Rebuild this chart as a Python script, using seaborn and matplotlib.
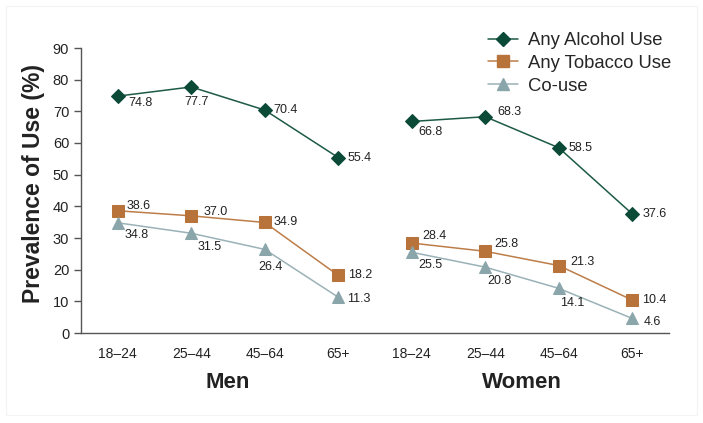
import matplotlib.pyplot as plt
import matplotlib.patches as patches
from matplotlib.lines import Line2D
import pandas as pd
import seaborn as sns

# data
groups = ['Men', 'Women']
age_bands = ['18\u201324', '25\u201344', '45\u201364', '65+']
measures = ['Any Alcohol Use', 'Any Tobacco Use', 'Co-use']

alcohol_men = [74.8, 77.7, 70.4, 55.4]
alcohol_women = [66.8, 68.3, 58.5, 37.6]
tobacco_men = [38.6, 37.0, 34.9, 18.2]
tobacco_women = [28.4, 25.8, 21.3, 10.4]
couse_men = [34.8, 31.5, 26.4, 11.3]
couse_women = [25.5, 20.8, 14.1, 4.6]

# styling
colors = {'Any Alcohol Use': '#0b4a37', 'Any Tobacco Use': '#b8733b', 'Co-use': '#8ba6ab'}
line_colors = {'Any Alcohol Use': '#1d5a47', 'Any Tobacco Use': '#bd7d48', 'Co-use': '#9ab2b7'}
markers = {'Any Alcohol Use': 'D', 'Any Tobacco Use': 's', 'Co-use': '^'}
msizes = {'Any Alcohol Use': 7.5, 'Any Tobacco Use': 8, 'Co-use': 8.5}

# label offsets in pixels (dx, dy) per measure, per point in order
offsets = {
    'Any Alcohol Use': [(11, -7), (-7, -15), (9, 0), (9, 0),
                        (7, -11), (12, 5), (10, 0), (10, 0)],
    'Any Tobacco Use': [(9, 5), (12, 4), (9, 0), (10, 0),
                        (11, 7), (9, 7), (12, 4), (10, 0)],
    'Co-use': [(7, -12), (6, -14), (-6, -18), (9, -2),
               (7, -13), (2, -14), (1, -15), (11, -4)],
}

values = {
    'Any Alcohol Use': alcohol_men + alcohol_women,
    'Any Tobacco Use': tobacco_men + tobacco_women,
    'Co-use': couse_men + couse_women,
}

rows = []
for m in measures:
    for i, v in enumerate(values[m]):
        rows.append({'measure': m, 'group': groups[i // 4], 'pos': i, 'value': v})
df = pd.DataFrame(rows)

sns.set_style('white')
plt.rcParams['font.family'] = ['Liberation Sans', 'DejaVu Sans']

fig = plt.figure(figsize=(7.03, 4.23), dpi=100)
ax = fig.add_axes([81 / 703, 90 / 423, 588 / 703, 285 / 423])

for m in measures:
    for g in groups:
        sub = df[(df['measure'] == m) & (df['group'] == g)]
        sns.lineplot(data=sub, x='pos', y='value', ax=ax, color=line_colors[m], lw=1.1,
                     marker=markers[m], markersize=msizes[m], markerfacecolor=colors[m],
                     markeredgecolor=colors[m], legend=False, zorder=3)
    for i, v in enumerate(values[m]):
        dx, dy = offsets[m][i]
        ax.annotate(f'{v:.1f}', (i, v), xytext=(dx, dy), textcoords='offset pixels',
                    ha='left', va='center', fontsize=9, color='#222222')

ax.set_xlim(-0.5, 7.5)
ax.set_ylim(0, 90)
ax.set_yticks(range(0, 91, 10))
ax.set_xticks(range(8))
ax.set_xticklabels(age_bands * 2, fontsize=10, color='#222222')
ax.set_xticks([x - 0.5 for x in range(9)], minor=True)
ax.tick_params(axis='x', which='major', length=0, pad=10)
ax.tick_params(axis='x', which='minor', length=5, width=1, color='#555555', direction='out')
ax.tick_params(axis='y', length=5, width=1, color='#555555', direction='out', labelsize=10.5,
               labelcolor='#222222', left=True)
ax.set_xlabel('')
ax.set_ylabel('Prevalence of Use (%)', fontsize=16.5, fontweight='bold', color='#222222')
ax.yaxis.set_label_coords(-0.062, 0.525)

for side in ['top', 'right']:
    ax.spines[side].set_visible(False)
for side in ['left', 'bottom']:
    ax.spines[side].set_color('#555555')
    ax.spines[side].set_linewidth(1)

for k, g in enumerate(groups):
    ax.text(1.5 + 4 * k, -0.172, g, transform=ax.get_xaxis_transform(), ha='center', va='center',
            fontsize=16, fontweight='bold', color='#222222')

handles = [Line2D([], [], color=line_colors[m], lw=1.1, marker=markers[m], markersize=msizes[m],
                  markerfacecolor=colors[m], markeredgecolor=colors[m]) for m in measures]
fig.legend(handles, measures, loc='upper left', bbox_to_anchor=(488 / 703, 1 - 32 / 423),
           frameon=False, fontsize=13.3, handlelength=1.6, handletextpad=0.55,
           labelspacing=0.32, borderpad=0, borderaxespad=0)

fig.patches.append(patches.Rectangle((6 / 703, 8 / 423), 691 / 703, 409 / 423, transform=fig.transFigure,
                                     fill=False, edgecolor='#f3f3f3', lw=0.8))

fig.savefig('out.png', dpi=100)
